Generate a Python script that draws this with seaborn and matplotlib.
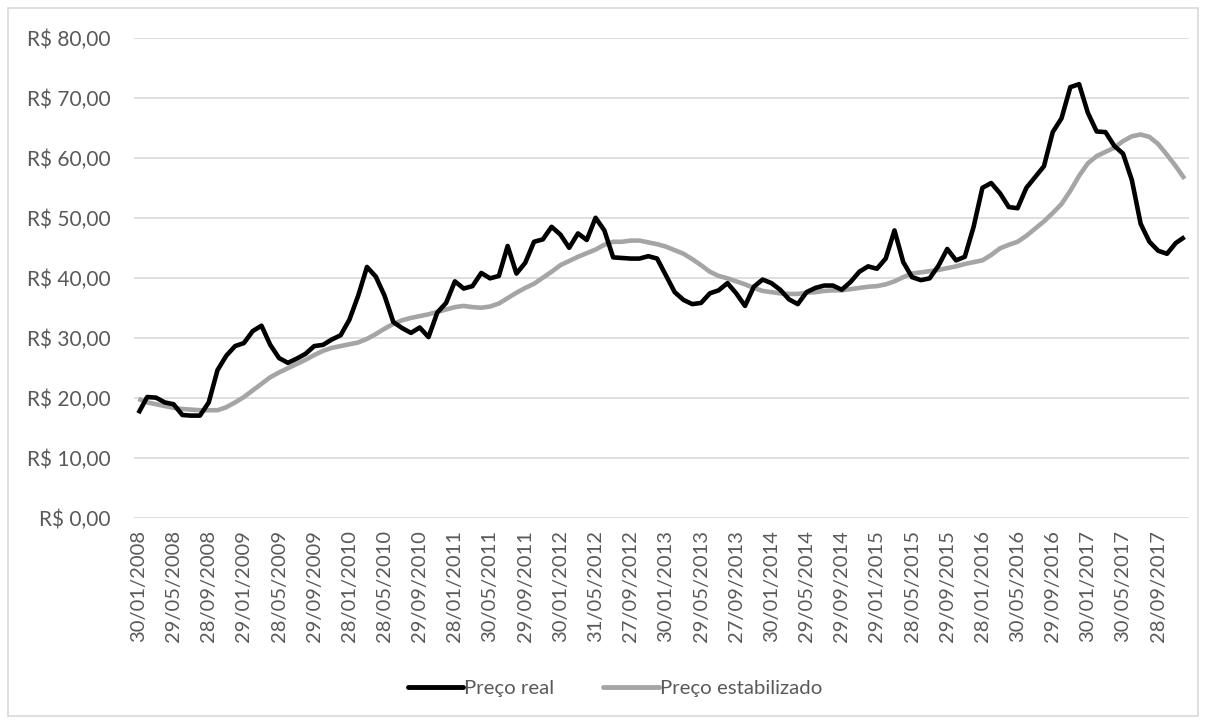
import numpy as np
import pandas as pd
import matplotlib
matplotlib.use("Agg")
import matplotlib.pyplot as plt
from matplotlib.patches import Rectangle
from matplotlib.lines import Line2D
import seaborn as sns

# Monthly prices, Jan/2008 .. Dec/2017
preco_real = [
    17.4, 20.1, 20.0, 19.2, 18.9, 17.1, 17.0, 17.0, 19.2, 24.6, 27.0, 28.6,
    29.1, 31.1, 32.0, 28.8, 26.6, 25.8, 26.5, 27.3, 28.6, 28.8, 29.7, 30.4,
    33.0, 37.0, 41.8, 40.2, 37.0, 32.6, 31.6, 30.8, 31.7, 30.1, 34.2, 35.8,
    39.4, 38.2, 38.6, 40.8, 39.9, 40.3, 45.3, 40.7, 42.5, 46.0, 46.4, 48.5,
    47.2, 45.0, 47.4, 46.3, 50.0, 47.9, 43.4, 43.3, 43.2, 43.2, 43.6, 43.2,
    40.4, 37.6, 36.3, 35.6, 35.8, 37.4, 37.9, 39.1, 37.4, 35.3, 38.5, 39.7,
    39.1, 38.0, 36.4, 35.6, 37.6, 38.3, 38.7, 38.7, 38.0, 39.3, 41.0, 41.9,
    41.5, 43.2, 47.9, 42.6, 40.1, 39.6, 39.9, 42.0, 44.8, 42.9, 43.5, 48.5,
    55.0, 55.8, 54.1, 51.8, 51.6, 55.0, 56.8, 58.6, 64.3, 66.6, 71.8, 72.3,
    67.5, 64.4, 64.3, 62.0, 60.7, 56.3, 49.0, 46.0, 44.5, 44.0, 45.8, 46.8,
]
preco_estabilizado = [
    19.8, 19.2, 18.9, 18.6, 18.3, 18.1, 18.0, 17.9, 17.9, 17.9, 18.4, 19.2,
    20.1, 21.2, 22.3, 23.4, 24.2, 24.9, 25.6, 26.3, 27.1, 27.8, 28.3, 28.6,
    28.9, 29.2, 29.8, 30.6, 31.5, 32.3, 32.9, 33.3, 33.6, 33.9, 34.3, 34.7,
    35.1, 35.3, 35.1, 35.0, 35.2, 35.7, 36.6, 37.5, 38.3, 39.0, 40.0, 41.0,
    42.1, 42.8, 43.5, 44.1, 44.7, 45.5, 46.0, 46.0, 46.2, 46.2, 45.9, 45.6,
    45.2, 44.6, 44.0, 43.1, 42.1, 41.0, 40.3, 39.9, 39.4, 38.9, 38.3, 37.8,
    37.6, 37.4, 37.3, 37.3, 37.5, 37.6, 37.8, 37.9, 37.9, 38.1, 38.3, 38.5,
    38.6, 38.9, 39.4, 40.1, 40.7, 40.9, 41.1, 41.3, 41.6, 41.9, 42.3, 42.6,
    42.9, 43.8, 44.9, 45.5, 46.0, 47.0, 48.2, 49.4, 50.8, 52.3, 54.5, 57.0,
    59.1, 60.3, 61.0, 61.7, 62.8, 63.6, 63.9, 63.5, 62.3, 60.5, 58.6, 56.5,
]
# Dates shown on the axis (every fourth month)
rotulos_datas = [
    "30/01/2008", "29/05/2008", "28/09/2008", "29/01/2009", "28/05/2009",
    "29/09/2009", "28/01/2010", "28/05/2010", "29/09/2010", "28/01/2011",
    "30/05/2011", "29/09/2011", "30/01/2012", "31/05/2012", "27/09/2012",
    "30/01/2013", "29/05/2013", "27/09/2013", "30/01/2014", "29/05/2014",
    "29/09/2014", "29/01/2015", "28/05/2015", "29/09/2015", "28/01/2016",
    "30/05/2016", "29/09/2016", "30/01/2017", "30/05/2017", "28/09/2017",
]
series_names = ["Preço real", "Preço estabilizado"]
series_colors = ["#000000", "#A5A5A5"]

sns.set_theme(style="white")
plt.rcParams["font.family"] = ["Lato", "DejaVu Sans"]

n = len(preco_real)
df = pd.DataFrame({
    "mes": np.concatenate([np.arange(n), np.arange(n)]),
    "preco": preco_real + preco_estabilizado,
    "serie": [series_names[0]] * n + [series_names[1]] * n,
})

fig = plt.figure(figsize=(12.06, 7.22), dpi=100)
ax = fig.add_axes([134 / 1206, 1 - 517.5 / 722, (1189 - 134) / 1206, (517.5 - 38) / 722])

sns.lineplot(data=df, x="mes", y="preco", hue="serie", hue_order=series_names,
             palette=series_colors, linewidth=3.3, ax=ax, legend=False, sort=False)
# keep the real price drawn above the smoothed one
for line, z in zip(ax.get_lines(), [3, 2]):
    line.set_zorder(z)
    line.set_solid_joinstyle("round")
    line.set_solid_capstyle("butt")

text_color = "#595959"
ax.set_xlim(-0.5, n - 0.5)
ax.set_ylim(0, 80)
ax.set_yticks(np.arange(0, 81, 10))
ax.set_yticklabels([f"R$ {v:.2f}".replace(".", ",") for v in np.arange(0, 81, 10)],
                   fontsize=15, color=text_color)
ax.set_xticks(np.arange(0, n, 4))
ax.set_xticklabels(rotulos_datas, rotation=90, fontsize=14.5, color=text_color)
ax.tick_params(axis="y", length=0, pad=17)
ax.tick_params(axis="x", length=0, pad=9)
ax.set_xlabel("")
ax.set_ylabel("")
ax.grid(axis="y", color="#D9D9D9", linewidth=1.2)
ax.grid(axis="x", visible=False)
ax.set_axisbelow(True)
for s in ax.spines.values():
    s.set_visible(False)

handles = [Line2D([], [], color=c, linewidth=3.5, solid_capstyle="round") for c in series_colors]
fig.legend(handles, series_names, loc="center", bbox_to_anchor=(0.51, 1 - 688 / 722),
           ncol=2, frameon=False, fontsize=14.7, handlelength=2.7, handletextpad=0.05,
           columnspacing=2.4, labelcolor=text_color)

fig.patches.append(Rectangle((8 / 1206, 6 / 722), 1190 / 1206, 708 / 722,
                             transform=fig.transFigure, fill=False,
                             edgecolor="#D9D9D9", linewidth=1.2))

fig.savefig("out.png", dpi=100, facecolor="white")
